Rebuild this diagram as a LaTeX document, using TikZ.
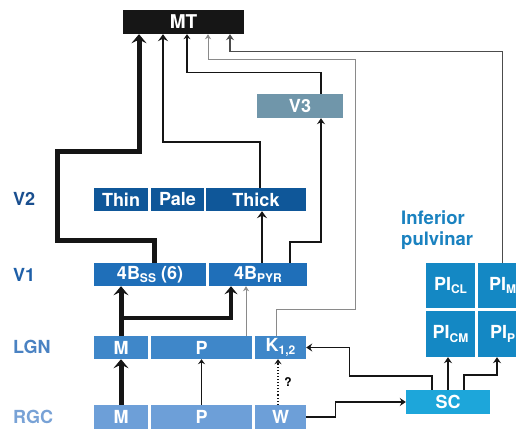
\documentclass[tikz,border=0pt]{standalone}
\usepackage{fontspec}
\setmainfont{TeX Gyre Heros}
\usetikzlibrary{arrows.meta,calc}
\definecolor{cmt}{HTML}{161616}
\definecolor{cvtwo}{HTML}{0F5799}
\definecolor{cvone}{HTML}{1F6FB9}
\definecolor{clgn}{HTML}{3F87C9}
\definecolor{crgc}{HTML}{6D9FD8}
\definecolor{cvthree}{HTML}{7096AA}
\definecolor{csc}{HTML}{1DA6DA}
\definecolor{cpi}{HTML}{1488C4}
\definecolor{lvtwo}{HTML}{1A4F8F}
\definecolor{lvone}{HTML}{1E5FA8}
\definecolor{llgn}{HTML}{4A82C2}
\definecolor{lrgc}{HTML}{78A2D6}
\definecolor{lpul}{HTML}{1A82C0}
\definecolor{cline}{HTML}{151515}
\definecolor{cgray}{HTML}{8A8A8A}
\newcommand{\mysub}[1]{\raisebox{-0.35ex}{\fontsize{12}{12}\selectfont #1}}
\tikzset{
  box/.style={rectangle, inner sep=0pt, text=white, font=\fontsize{18}{18}\selectfont\bfseries},
  rowlabel/.style={anchor=west, inner sep=0pt, font=\fontsize{18}{18}\selectfont\bfseries},
  lnthick/.style={draw=cline, line width=5pt, line join=miter, -{Stealth[length=9pt,width=15pt,inset=3.5pt]}},
  lnmid/.style={draw=cline, line width=3.5pt, line join=miter, -{Stealth[length=8pt,width=13pt,inset=3pt]}},
  lnmed/.style={draw=cline, line width=2.4pt, line join=miter, -{Stealth[length=7pt,width=10pt,inset=2.5pt]}},
  lnthin/.style={draw=cline, line width=1.4pt, line join=miter, -{Stealth[length=6pt,width=8pt,inset=2pt]}},
  lnfine/.style={draw=cline, line width=1.1pt, line join=miter, -{Stealth[length=5pt,width=7pt,inset=1.8pt]}},
  lngray/.style={draw=cgray, line width=0.9pt, line join=miter, -{Stealth[length=5pt,width=6pt,inset=1.6pt]}},
}
\begin{document}
\begin{tikzpicture}[x=1pt,y=-1pt]
\useasboundingbox (0,0) rectangle (516,430);
\clip (0,0) rectangle (516,430);
\fill[white] (0,0) rectangle (516,430);

% boxes
\node[box, fill=cmt, minimum width=121pt, minimum height=24pt, font=\fontsize{19}{19}\selectfont\bfseries] (mt) at (183.5,22) {MT};
\node[box, fill=cvthree, minimum width=86pt, minimum height=24pt] (v3) at (300,106) {V3};
\node[box, fill=cvtwo, minimum width=54pt, minimum height=23pt] (thin) at (121,199.5) {Thin};
\node[box, fill=cvtwo, minimum width=53pt, minimum height=23pt] (pale) at (177.5,199.5) {Pale};
\node[box, fill=cvtwo, minimum width=100pt, minimum height=23pt] (thick) at (256,199.5) {Thick};
\node[box, fill=cvone, minimum width=112pt, minimum height=23pt] (ss) at (150,274.5) {4B\mysub{SS} (6)};
\node[box, fill=cvone, minimum width=98pt, minimum height=23pt] (pyr) at (258,274.5) {4B\mysub{PYR}};
\node[box, fill=clgn, minimum width=54pt, minimum height=23pt] (lm) at (121,347.5) {M};
\node[box, fill=clgn, minimum width=101pt, minimum height=23pt] (lp) at (201.5,347.5) {P};
\node[box, fill=clgn, minimum width=51pt, minimum height=23pt] (k) at (280.5,347.5) {K\mysub{1,2}};
\node[box, fill=crgc, minimum width=54pt, minimum height=24pt] (rm) at (121,417) {M};
\node[box, fill=crgc, minimum width=101pt, minimum height=24pt] (rp) at (201.5,417) {P};
\node[box, fill=crgc, minimum width=51pt, minimum height=24pt] (w) at (280.5,417) {W};
\node[box, fill=csc, minimum width=84pt, minimum height=24pt] (sc) at (448,402) {SC};
\node[box, fill=cpi, minimum width=49pt, minimum height=45pt] (picl) at (450.5,285.5) {PI\mysub{CL}};
\node[box, fill=cpi, minimum width=49pt, minimum height=46pt] (picm) at (450.5,334) {PI\mysub{CM}};
\node[box, fill=cpi, minimum width=49pt, minimum height=45pt] (pim) at (502.5,285.5) {PI\mysub{M}};
\node[box, fill=cpi, minimum width=49pt, minimum height=46pt] (pip) at (502.5,334) {PI\mysub{P}};

% labels
\node[rowlabel, text=lvtwo] (lbvtwo) at (13,199) {V2};
\node[rowlabel, text=lvone] (lbvone) at (13,275) {V1};
\node[rowlabel, text=llgn] (lblgn) at (13,347) {LGN};
\node[rowlabel, text=lrgc] (lbrgc) at (13,417) {RGC};
\node[anchor=west, inner sep=0pt, text=lpul, align=left, font=\fontsize{18.5}{21}\selectfont\bfseries] (pul) at (401,230) {Inferior\\pulvinar};

% coordinates
\coordinate (mA) at ([xshift=-44.5pt]mt.south);
\coordinate (mB) at ([xshift=-20.5pt]mt.south);
\coordinate (mC) at ([xshift=3.5pt]mt.south);
\coordinate (mD) at ([xshift=24.5pt]mt.south);
\coordinate (mE) at ([xshift=46.5pt]mt.south);
\coordinate (s1) at ([xshift=4.5pt]ss.north);
\coordinate (a1) at (57,240);
\coordinate (a2) at (57,152);
\coordinate (t1) at ([xshift=4pt]thick.north);
\coordinate (v1) at ([xshift=21pt]v3.north);
\coordinate (v2) at ([xshift=21pt]v3.south);
\coordinate (k1) at ([xshift=-4.5pt]k.north);
\coordinate (c1) at (355,309);
\coordinate (c2) at (355,59);
\coordinate (p2) at ([xshift=32pt]pyr.north);
\coordinate (p3) at ([xshift=4pt]pyr.north);
\coordinate (p4) at ([xshift=-27pt]pyr.south);
\coordinate (br) at ([yshift=18pt]lm.north);
\coordinate (lp1) at ([xshift=44.5pt]lp.north);
\coordinate (w1) at ([xshift=-2.5pt]w.north);
\coordinate (sc1) at ([xshift=-16pt]sc.north);
\coordinate (sc2) at ([xshift=16pt]sc.north);
\coordinate (c3) at ([xshift=43pt]k.east);
\coordinate (pp) at ([xshift=-5.5pt]pip.south);

% connectors to MT
\draw[lnthick] (s1) |- (a1) -- (a2) -| (mA);
\draw[lnmed] (t1) -- ++(0,-46) -| (mB);
\draw[lnfine] (v1) -- ++(0,-21) -| (mC);
\draw[lngray] (k1) |- (c1) -- (c2) -| (mD);
\draw[lnthin, draw=black!70, line width=1.3pt] (pim.north) -- ++(0,-211) -| (mE);

% within cortex
\draw[lnthin] (p2) -- ++(0,-21) -| (v2);
\draw[lnmed] (p3) -- (p3 |- thick.south);

% LGN to V1
\draw[lnthick] (lm.north) -- (lm.north |- ss.south);
\draw[lnmid] (br) -| (p4);
\draw[lngray] (lp1) -- (lp1 |- pyr.south);

% RGC to LGN
\draw[lnthick] (rm.north) -- (rm.north |- lm.south);
\draw[lnfine] (rp.north) -- (rp.north |- lp.south);
\draw[lnfine, dotted, line width=1.3pt] (w1) -- (w1 |- k.south);
\node[inner sep=0pt, font=\fontsize{12}{12}\selectfont\bfseries] (q) at (288,382) {?};

% SC
\draw[lnthin] (w.east) -- ++(29,0) |- (sc.west);
\draw[lnthin] (sc1) -- ++(0,-14) -| (c3) -- (k.east);
\draw[lnthin] (sc.north) -- (sc.north |- picm.south);
\draw[lnthin] (sc2) -- ++(0,-15) -| (pp);
\end{tikzpicture}
\end{document}
